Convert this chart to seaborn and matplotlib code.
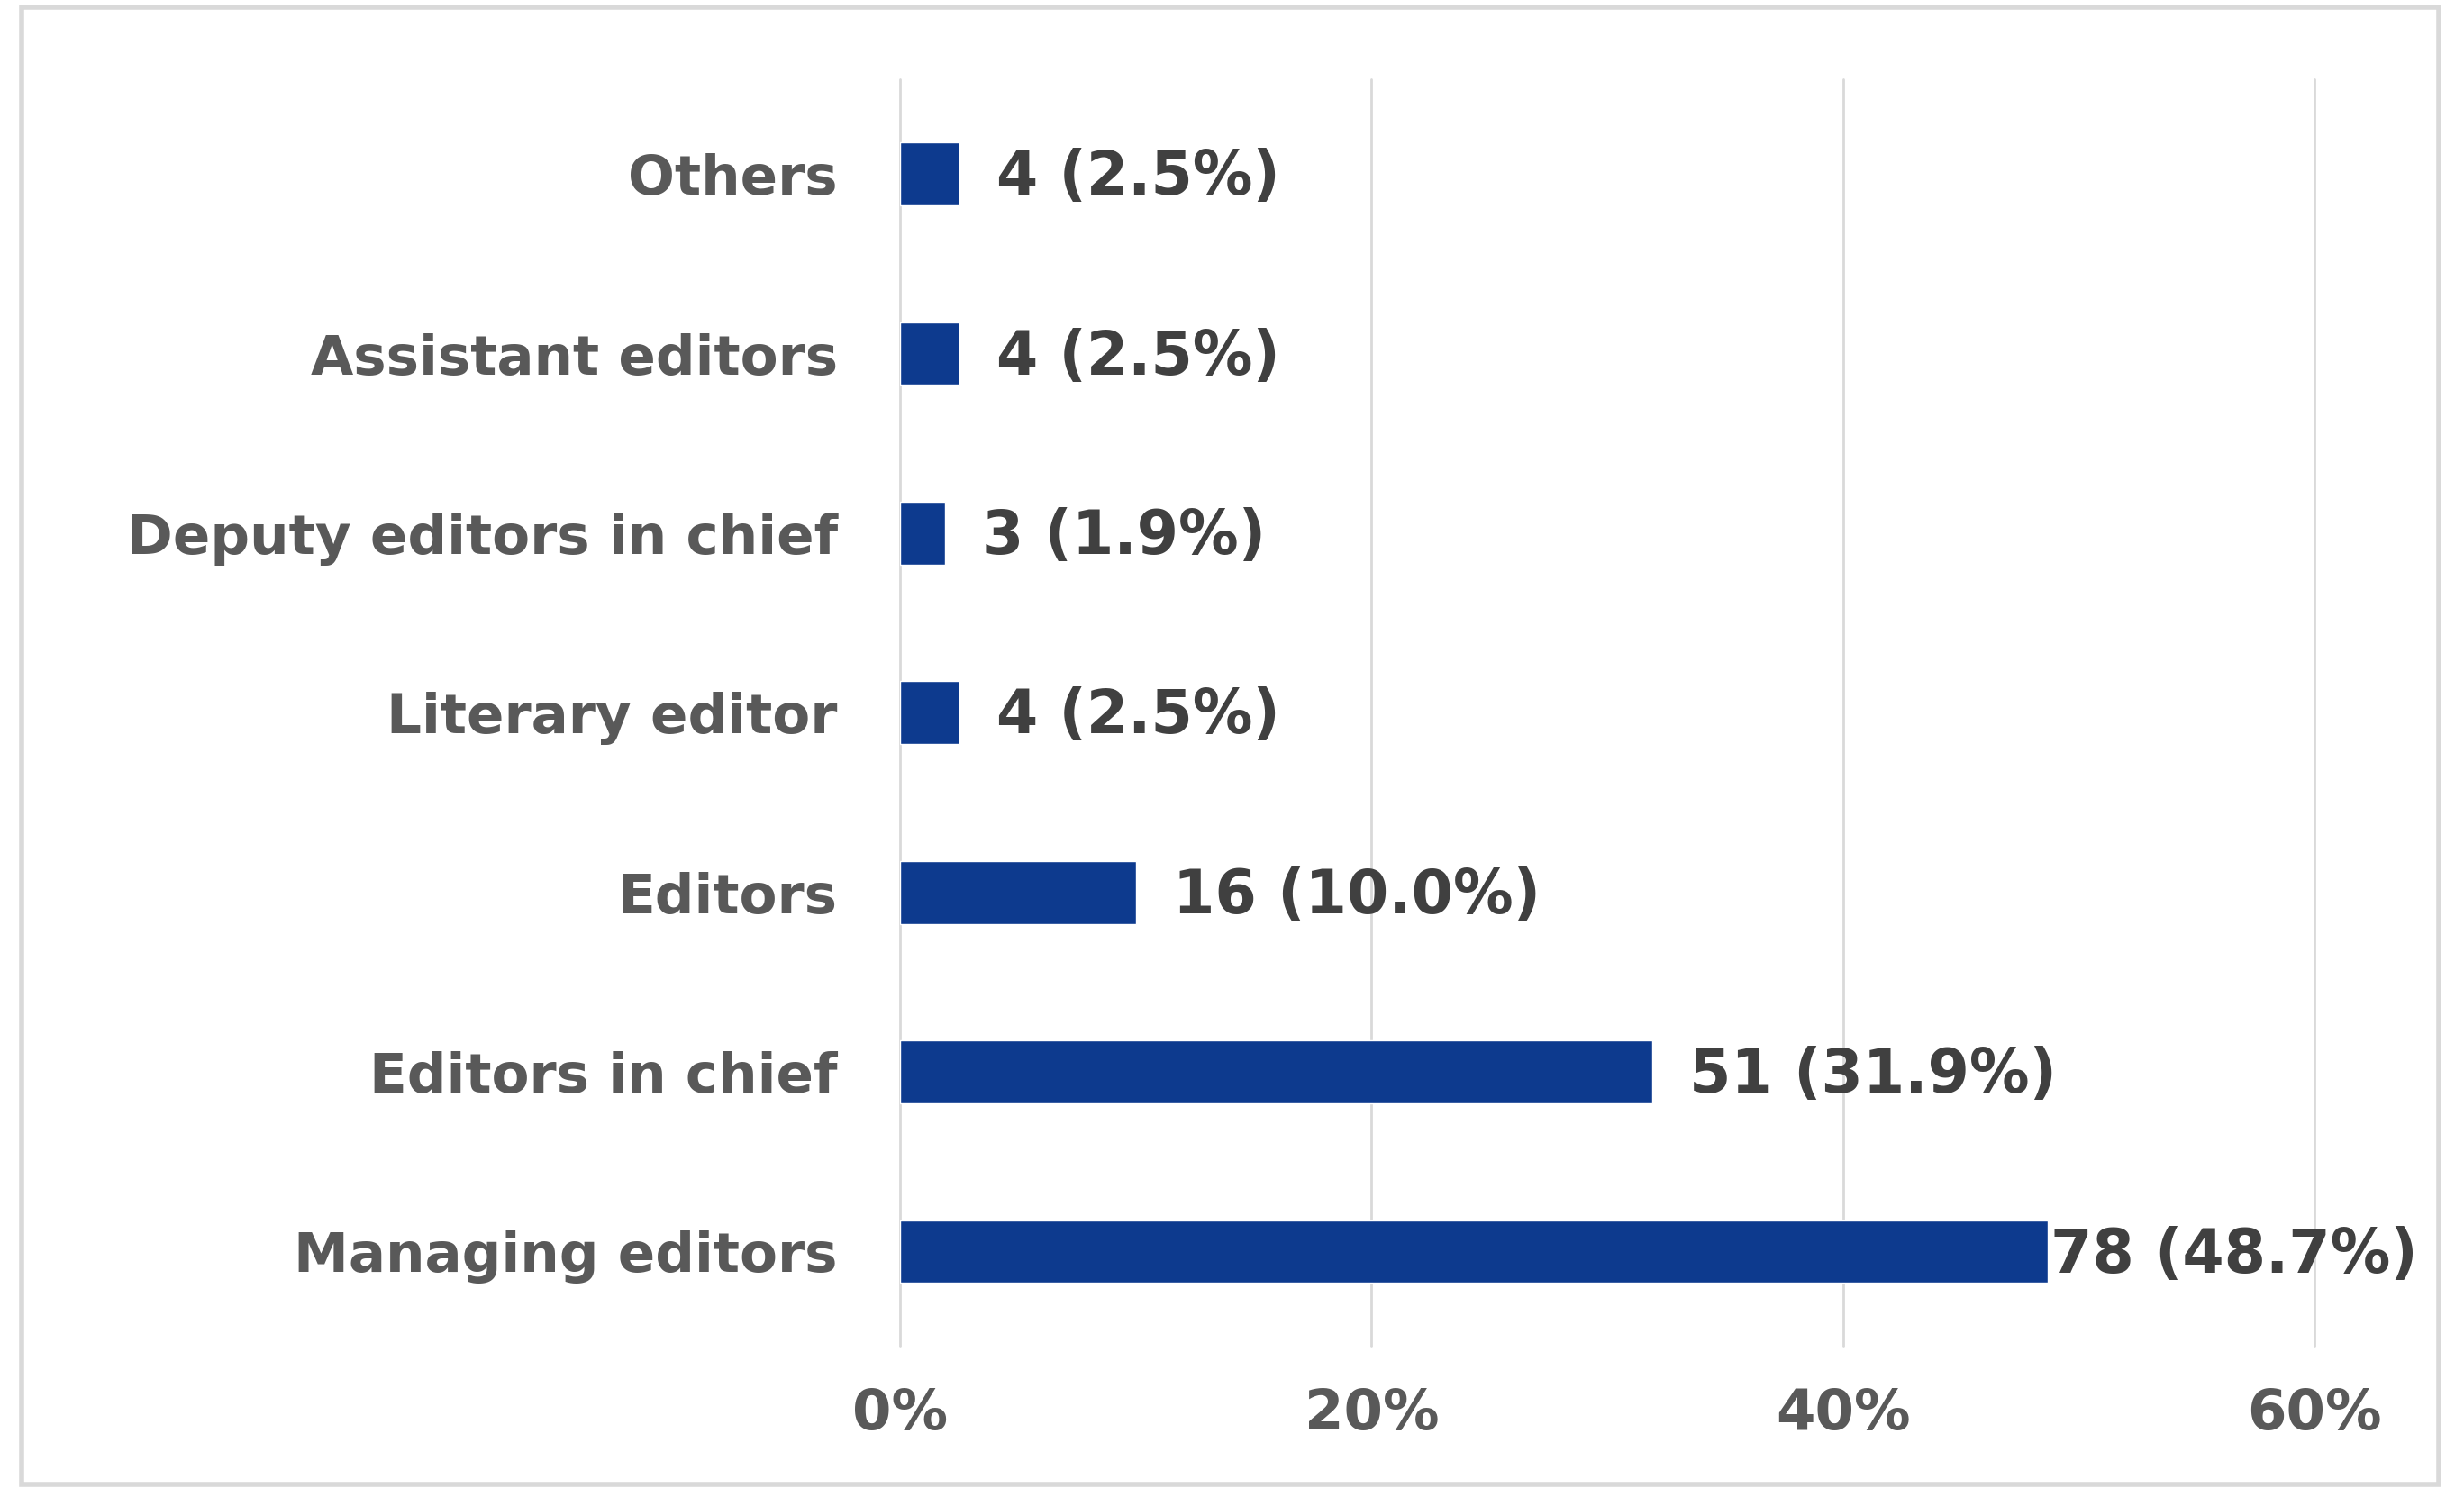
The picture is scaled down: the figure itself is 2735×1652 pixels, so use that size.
import matplotlib
matplotlib.use("Agg")
import matplotlib.pyplot as plt
import seaborn as sns
import pandas as pd
from matplotlib.patches import Rectangle
from matplotlib.ticker import PercentFormatter

# data (top to bottom)
positions = ['Others', 'Assistant editors', 'Deputy editors in chief', 'Literary editor',
             'Editors', 'Editors in chief', 'Managing editors']
counts = [4, 4, 3, 4, 16, 51, 78]
percents = [2.5, 2.5, 1.9, 2.5, 10.0, 31.9, 48.7]

df = pd.DataFrame({'position': positions, 'pct': percents, 'n': counts})

sns.set_style('white')
plt.rcParams['font.family'] = ['DejaVu Sans']

fig = plt.figure(figsize=(27.35, 16.52), dpi=100)
ax = fig.add_axes([0.3653, 0.095, 0.5740, 0.852])

sns.barplot(data=df, x='pct', y='position', orient='h', color='#0D3A8E',
            saturation=1, width=0.35, ax=ax)

ax.set_xlim(0, 60)
ax.set_ylim(6.53, -0.53)
ax.set_xticks([0, 20, 40, 60])
ax.xaxis.set_major_formatter(PercentFormatter(decimals=0))
ax.grid(axis='x', color='#D9D9D9', linewidth=2)
for gl in ax.get_xgridlines():
    gl.set_clip_on(False)
ax.set_axisbelow(True)
for s in ax.spines.values():
    s.set_visible(False)
ax.set_xlabel('')
ax.set_ylabel('')
ax.tick_params(axis='x', length=0, pad=32, labelsize=45, labelcolor='#595959')
ax.tick_params(axis='y', length=0, pad=50, labelsize=44, labelcolor='#595959')
for lab in ax.get_xticklabels() + ax.get_yticklabels():
    lab.set_fontweight('bold')

# data labels
for i, (n, p) in enumerate(zip(counts, percents)):
    off = 2 if p > 45 else 30
    ax.annotate(f'{n} ({p:.1f}%)', xy=(p, i), xytext=(off, -3), textcoords='offset points',
                va='center', ha='left', fontsize=48, fontweight='bold', color='#404040')

# outer frame
fig.patches.append(Rectangle((24 / 2735, 4 / 1652), 2683 / 2735, 1640 / 1652,
                             transform=fig.transFigure, fill=False,
                             edgecolor='#D9D9D9', linewidth=4))

fig.savefig('out.png', dpi=100, facecolor='white')
